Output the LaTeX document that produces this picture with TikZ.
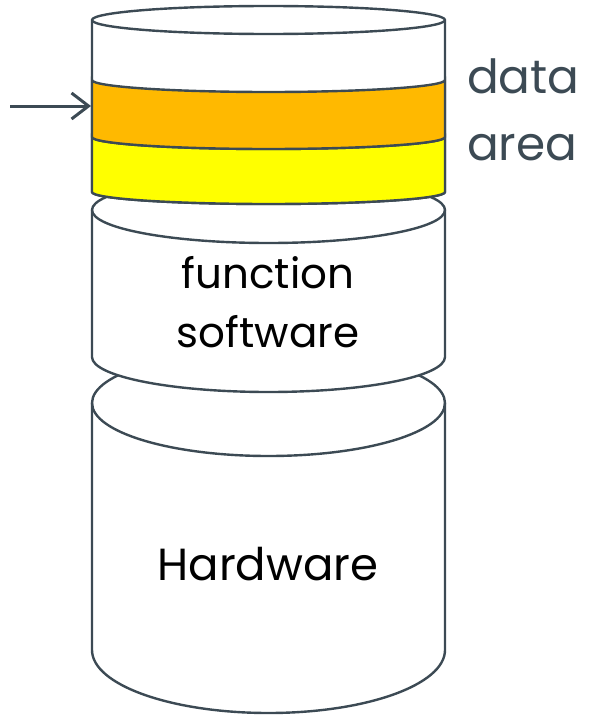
\documentclass[tikz,border=0pt]{standalone}
\usepackage{fontspec}
\setmainfont{Poppins}
\usepackage{tikz}
\usetikzlibrary{arrows.meta}
\usepackage{xcolor}
\definecolor{slate}{HTML}{3C4A54}
\definecolor{amber}{HTML}{FFB900}
\definecolor{lemon}{HTML}{FFFF00}
\tikzset{
  drum/.style    = {draw=slate, line width=2.4pt, fill=white, line join=round},
  rim/.style     = {draw=slate, line width=2.4pt},
  band/.style    = {draw=slate, line width=2.4pt},
  sidelbl/.style = {text=slate, inner sep=0pt, font=\fontsize{47}{60}\selectfont},
  druml/.style   = {text=black, inner sep=0pt, font=\fontsize{42}{50}\selectfont},
  feed/.style    = {-{Straight Barb[length=17pt,width=26pt,line width=3pt]}, draw=slate, line width=3pt},
}

\begin{document}
\begin{tikzpicture}[x=1pt,y=1pt]
\useasboundingbox (0,0) rectangle (608,-720);
% hardware
\draw[drum] (92,-403) -- (92,-650) arc[start angle=180,end angle=360,x radius=176.5,y radius=63]
  -- (445,-403) arc[start angle=0,end angle=180,x radius=176.5,y radius=53] -- cycle;
\draw[rim] (92,-403) arc[start angle=180,end angle=360,x radius=176.5,y radius=53];
% function software
\draw[drum] (92,-210) -- (92,-357) arc[start angle=180,end angle=360,x radius=176.5,y radius=35]
  -- (445,-210) arc[start angle=0,end angle=180,x radius=176.5,y radius=33] -- cycle;
\draw[rim] (92,-210) arc[start angle=180,end angle=360,x radius=176.5,y radius=33];
% data area
\draw[drum] (92,-20) -- (92,-192) arc[start angle=180,end angle=360,x radius=176.5,y radius=12]
  -- (445,-20) arc[start angle=0,end angle=180,x radius=176.5,y radius=14] -- cycle;
\draw[band,fill=lemon] (92,-137) -- (92,-192) arc[start angle=180,end angle=360,x radius=176.5,y radius=12]
  -- (445,-137) arc[start angle=360,end angle=180,x radius=176.5,y radius=12] -- cycle;
\draw[band,fill=amber] (92,-80) -- (92,-137) arc[start angle=180,end angle=360,x radius=176.5,y radius=12]
  -- (445,-80) arc[start angle=360,end angle=180,x radius=176.5,y radius=12] -- cycle;
\draw[rim] (92,-20) arc[start angle=180,end angle=360,x radius=176.5,y radius=14];

\node[druml,anchor=base] (fnc) at (268,-288) {function};
\node[druml,anchor=base] (sw) at (268,-347) {software};
\node[druml,anchor=base,font=\fontsize{45}{55}\selectfont] (hw) at (268,-580) {Hardware};
\node[sidelbl,anchor=base west] (dat) at (467,-93) {data};
\node[sidelbl,anchor=base west] (are) at (467,-160) {area};

\coordinate (src) at (10,-106);
\coordinate (slot) at (91,-106);
\draw[feed] (src) -- (slot);
\end{tikzpicture}
\end{document}
